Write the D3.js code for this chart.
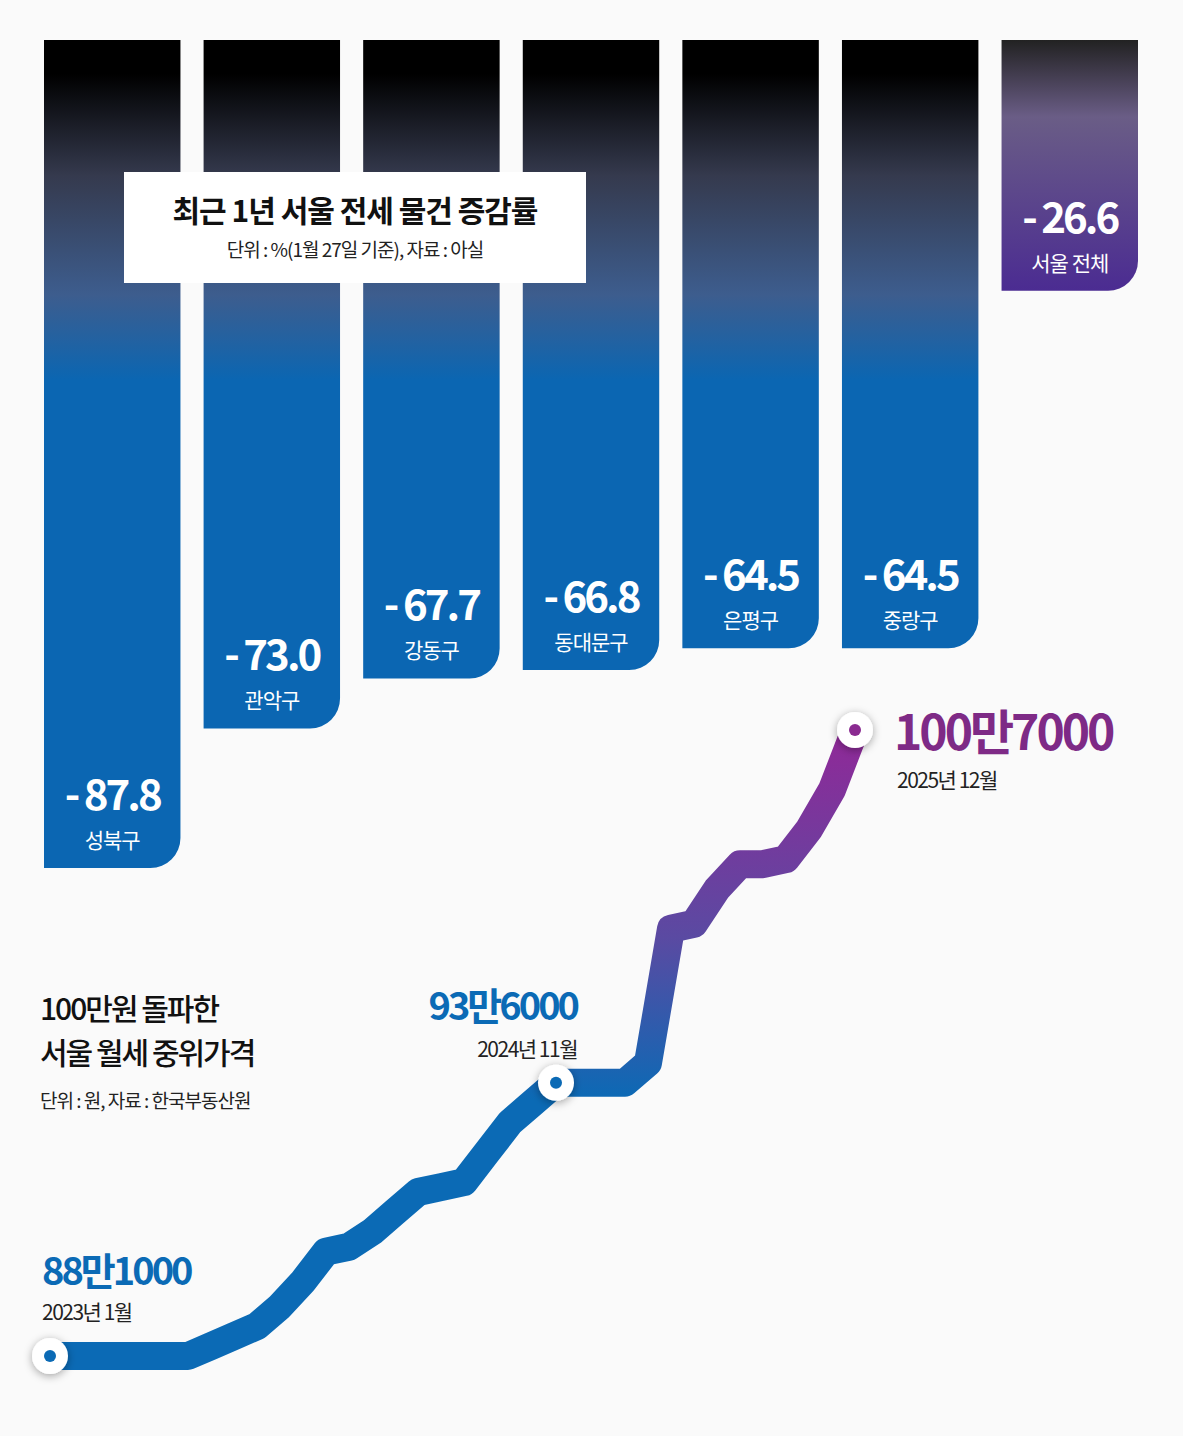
<!DOCTYPE html>
<html><head><meta charset="utf-8">
<script src="https://cdn.jsdelivr.net/npm/d3@7"></script>
<style>
body{margin:0;background:#fafafa;}
text{font-family:"Noto Sans CJK KR","Noto Sans",sans-serif;}
</style></head>
<body><svg id="c" width="1183" height="1436"></svg>
<script>
const districts = ["성북구","관악구","강동구","동대문구","은평구","중랑구","서울 전체"];
const changes = [-87.8,-73.0,-67.7,-66.8,-64.5,-64.5,-26.6];
const monthLabels = d3.range(36).map(i => `${2023+Math.floor(i/12)}년 ${i%12+1}월`);
const rent = [88.1,88.1,88.1,88.1,88.1,88.1,88.1,88.3,88.5,88.7,89.1,89.6,
              90.2,90.3,90.6,91.0,91.4,91.5,91.6,92.2,92.8,93.2,93.6,93.6,
              93.6,93.6,94.0,96.7,96.8,97.5,98.0,98.0,98.1,98.7,99.5,100.7];
const callouts = [
  {i:0, value:"88만1000", anchor:"start"},
  {i:22, value:"93만6000", anchor:"end"},
  {i:35, value:"100만7000", anchor:"start"}
];

const svg = d3.select("#c");
svg.append("rect").attr("width",1183).attr("height",1436).attr("fill","#fafafa");
const defs = svg.append("defs");
const g1 = defs.append("linearGradient").attr("id","gb").attr("x1",0).attr("x2",0)
  .attr("gradientUnits","userSpaceOnUse").attr("y1",40).attr("y2",380);
g1.append("stop").attr("offset",0.1).attr("stop-color","#000");
g1.append("stop").attr("offset",0.4).attr("stop-color","#353a4e");
g1.append("stop").attr("offset",0.75).attr("stop-color","#3d5d8e");
g1.append("stop").attr("offset",1).attr("stop-color","#0b66b2");
const g2 = defs.append("linearGradient").attr("id","gp").attr("x1",0).attr("x2",0)
  .attr("gradientUnits","userSpaceOnUse").attr("y1",40).attr("y2",296);
g2.append("stop").attr("offset",0).attr("stop-color","#222");
g2.append("stop").attr("offset",0.3).attr("stop-color","#6a5d86");
g2.append("stop").attr("offset",1).attr("stop-color","#4a2a92");
const g3 = defs.append("linearGradient").attr("id","gl").attr("x1",0).attr("x2",0)
  .attr("gradientUnits","userSpaceOnUse").attr("y1",1100).attr("y2",740);
g3.append("stop").attr("offset",0).attr("stop-color","#0b6ab5");
g3.append("stop").attr("offset",0.45).attr("stop-color","#5a4aa2");
g3.append("stop").attr("offset",1).attr("stop-color","#8e2a98");
const sh = defs.append("filter").attr("id","sh").attr("x","-50%").attr("y","-50%").attr("width","200%").attr("height","200%");
sh.append("feDropShadow").attr("dx",0).attr("dy",2).attr("stdDeviation",4).attr("flood-opacity",0.35);

// bars
const x = d3.scaleBand().domain(districts).range([44,1138]).paddingInner(0.145);
const y = d3.scaleLinear().domain([0,-87.8]).range([40,868]);
const r = 30;
districts.forEach((d,k) => {
  const x0 = x(d), w = x.bandwidth(), yb = y(changes[k]);
  const p = `M${x0},40H${x0+w}V${yb-r}A${r},${r} 0 0 1 ${x0+w-r},${yb}H${x0}Z`;
  svg.append("path").attr("d",p).attr("fill",k===6?"url(#gp)":"url(#gb)");
  const cx = x0 + w/2;
  svg.append("text").attr("x",cx).attr("y",yb-58).attr("text-anchor","middle")
    .attr("fill","#fff").attr("font-size",42).attr("font-weight",700).attr("letter-spacing",-3)
    .text("- " + d3.format(".1f")(-changes[k]));
  svg.append("text").attr("x",cx).attr("y",yb-20).attr("text-anchor","middle")
    .attr("fill","#fff").attr("font-size",21).attr("letter-spacing",-1).text(d);
});

// title box
svg.append("rect").attr("x",124).attr("y",172).attr("width",462).attr("height",111).attr("fill","#fff");
svg.append("text").attr("x",355).attr("y",222).attr("text-anchor","middle").attr("font-size",30)
  .attr("font-weight",700).attr("letter-spacing",-1).attr("fill","#111").text("최근 1년 서울 전세 물건 증감률");
svg.append("text").attr("x",355).attr("y",257).attr("text-anchor","middle").attr("font-size",19)
  .attr("letter-spacing",-1).attr("fill","#222").text("단위 : %(1월 27일 기준), 자료 : 아실");

// line
const lx = d3.scaleLinear().domain([0,35]).range([50,855]);
const ly = d3.scaleLinear().domain([88.1,100.7]).range([1356,730]);
svg.append("path").datum(rent)
  .attr("d",d3.line().x((v,i)=>lx(i)).y(v=>ly(v)))
  .attr("fill","none").attr("stroke","url(#gl)").attr("stroke-width",28).attr("stroke-linejoin","round");

callouts.forEach((c,k) => {
  const cx = lx(c.i), cy = ly(rent[c.i]);
  const col = k===2 ? "#8a2a90" : "#0b6ab5";
  svg.append("circle").attr("cx",cx).attr("cy",cy).attr("r",18).attr("fill","#fff").attr("filter","url(#sh)");
  svg.append("circle").attr("cx",cx).attr("cy",cy).attr("r",6).attr("fill",col);
});
const lab = [
  {x:42,y:1285,ys:1320,size:38},
  {x:577,y:1020,ys:1057,size:38},
  {x:894,y:750,ys:788,size:48}
];
callouts.forEach((c,k) => {
  const L = lab[k];
  svg.append("text").attr("x",L.x).attr("y",L.y).attr("text-anchor",c.anchor).attr("font-size",L.size)
    .attr("font-weight",700).attr("letter-spacing",-3).attr("fill",k===2?"#7e2a86":"#0b6ab5").text(c.value);
  svg.append("text").attr("x",L.x+(k===2?3:0)).attr("y",L.ys).attr("text-anchor",c.anchor).attr("font-size",21)
    .attr("letter-spacing",-1.5).attr("fill","#222").text(monthLabels[c.i]);
});

svg.append("text").attr("x",40).attr("y",1020).attr("font-size",30).attr("font-weight",500)
  .attr("letter-spacing",-2).attr("fill","#111").text("100만원 돌파한");
svg.append("text").attr("x",40).attr("y",1064).attr("font-size",30).attr("font-weight",500)
  .attr("letter-spacing",-2).attr("fill","#111").text("서울 월세 중위가격");
svg.append("text").attr("x",40).attr("y",1108).attr("font-size",19)
  .attr("letter-spacing",-1).attr("fill","#222").text("단위 : 원, 자료 : 한국부동산원");
</script></body></html>
